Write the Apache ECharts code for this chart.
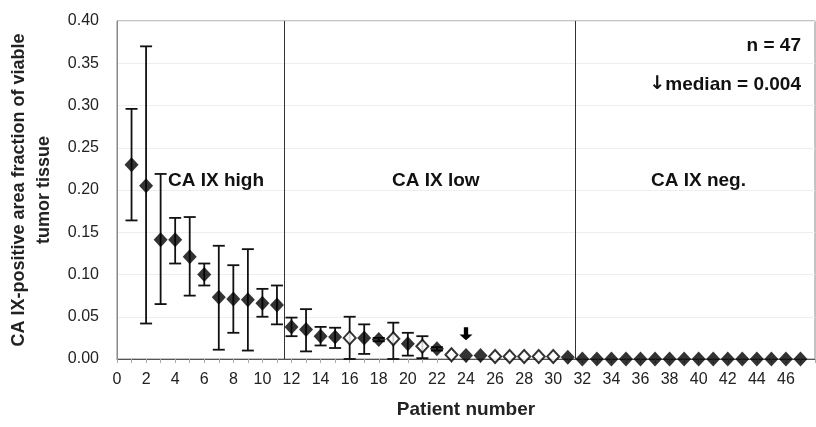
<!DOCTYPE html>
<html>
<head>
<meta charset="utf-8">
<script src="https://cdn.jsdelivr.net/npm/echarts@6/dist/echarts.min.js"></script>
<style>
  html, body { margin: 0; padding: 0; background: #fff; }
  #chart { width: 816px; height: 427px; }
</style>
</head>
<body>
<div id="chart"></div>
<script>
// patient numbers (x)
var patients = [1, 2, 3, 4, 5, 6, 7, 8, 9, 10, 11, 12, 13, 14, 15, 16, 17, 18, 19, 20, 21, 22, 23, 24,
    25, 26, 27, 28, 29, 30, 31, 32, 33, 34, 35, 36, 37, 38, 39, 40, 41, 42, 43, 44, 45, 46, 47];

// CA IX-positive area fraction (mean)
var values = [0.230, 0.205, 0.141, 0.141, 0.121, 0.100, 0.073, 0.071, 0.070, 0.066, 0.064,
    0.038, 0.035, 0.027, 0.026, 0.025, 0.025, 0.023, 0.024, 0.018, 0.015, 0.012, 0.005, 0.004,
    0.004, 0.003, 0.003, 0.003, 0.003, 0.003, 0.002,
    0, 0, 0, 0, 0, 0, 0, 0, 0, 0, 0, 0, 0, 0, 0, 0];

// error bar ends (null = no bar)
var upper = [0.296, 0.370, 0.219, 0.167, 0.168, 0.113, 0.134, 0.111, 0.130, 0.083, 0.087,
    0.049, 0.059, 0.038, 0.037, 0.050, 0.041, 0.025, 0.043, 0.031, 0.027, 0.014];
var lower = [0.164, 0.042, 0.065, 0.113, 0.075, 0.087, 0.011, 0.031, 0.010, 0.050, 0.041,
    0.027, 0.009, 0.016, 0.013, 0.000, 0.006, 0.021, 0.000, 0.004, 0.001, 0.010];

// patients drawn with open diamonds
var openPatients = [16, 19, 21, 23, 26, 27, 28, 29, 30];

// group boundaries
var boundaries = [11.5, 31.5];
var medianPatient = 24;

var filled = [], hollow = [], bars = [];
for (var i = 0; i < patients.length; i++) {
    var p = [patients[i], values[i]];
    if (openPatients.indexOf(patients[i]) >= 0) hollow.push(p); else filled.push(p);
    if (upper[i] != null) bars.push([patients[i], lower[i], upper[i]]);
}

var dom = document.getElementById('chart');
var myChart = echarts.init(dom);
var font = 'Liberation Sans, Arial, sans-serif';

var option = {
    animation: false,
    grid: {
        left: 117, right: 1, top: 21, bottom: 68,
        containLabel: false, outerBoundsMode: 'none',
        show: true, borderColor: '#888', borderWidth: 1
    },
    xAxis: {
        type: 'value',
        min: 0,
        max: 48,
        interval: 2,
        name: 'Patient number',
        nameLocation: 'middle',
        nameGap: 41,
        nameTextStyle: { fontFamily: font, fontSize: 19, fontWeight: 'bold', color: '#222' },
        axisLine: { show: true, lineStyle: { color: '#555', width: 1 } },
        axisTick: { show: true, length: 4, lineStyle: { color: '#aaa' } },
        minorTick: { show: true, splitNumber: 2, length: 4, lineStyle: { color: '#aaa' } },
        splitLine: { show: false },
        axisLabel: { fontFamily: font, fontSize: 16, color: '#222', margin: 13, showMaxLabel: false }
    },
    yAxis: {
        type: 'value',
        min: 0,
        max: 0.4,
        interval: 0.05,
        name: 'CA IX-positive area fraction of viable\ntumor tissue',
        nameLocation: 'middle',
        nameGap: 56,
        nameTextStyle: { fontFamily: font, fontSize: 18, fontWeight: 'bold', color: '#222', lineHeight: 25 },
        axisLine: { show: true, lineStyle: { color: '#888' } },
        axisTick: { show: false },
        splitLine: { show: true, lineStyle: { color: '#eee' } },
        axisLabel: {
            fontFamily: font, fontSize: 16, color: '#222', margin: 18,
            formatter: function (v) { return v.toFixed(2); }
        }
    },
    series: [
        {
            type: 'custom',
            name: 'err',
            data: bars,
            z: 2,
            renderItem: function (params, api) {
                var x = api.value(0);
                var lo = api.coord([x, api.value(1)]);
                var hi = api.coord([x, api.value(2)]);
                var w = 6;
                var st = { stroke: '#111', lineWidth: 1.8 };
                return {
                    type: 'group',
                    children: [
                        { type: 'line', shape: { x1: lo[0], y1: lo[1], x2: hi[0], y2: hi[1] }, style: st },
                        { type: 'line', shape: { x1: lo[0] - w, y1: lo[1], x2: lo[0] + w, y2: lo[1] }, style: st },
                        { type: 'line', shape: { x1: hi[0] - w, y1: hi[1], x2: hi[0] + w, y2: hi[1] }, style: st }
                    ]
                };
            },
            markLine: {
                silent: true,
                symbol: 'none',
                label: { show: false },
                lineStyle: { color: '#333', width: 1, type: 'solid' },
                data: boundaries.map(function (b) { return { xAxis: b }; })
            }
        },
        {
            type: 'scatter',
            name: 'filled',
            data: filled,
            z: 3,
            symbol: 'diamond',
            symbolSize: [14, 15],
            itemStyle: { color: '#000' },
            markPoint: {
                symbol: 'path://M4,0 L8,0 L8,8 L12,8 L6,14 L0,8 L4,8 Z',
                symbolSize: [13, 13],
                itemStyle: { color: '#000' },
                label: { show: false },
                data: [{ coord: [medianPatient, 0.030] }]
            }
        },
        {
            type: 'scatter',
            name: 'open',
            data: hollow,
            z: 3,
            symbol: 'diamond',
            symbolSize: [12, 13],
            itemStyle: { color: '#fff', borderColor: '#000', borderWidth: 2 }
        }
    ],
    graphic: [
        { type: 'text', left: 168, top: 171, style: { text: 'CA IX high', font: 'bold 19px ' + font, fill: '#111' } },
        { type: 'text', left: 392, top: 171, style: { text: 'CA IX low', font: 'bold 19px ' + font, fill: '#111' } },
        { type: 'text', left: 651, top: 171, style: { text: 'CA IX neg.', font: 'bold 19px ' + font, fill: '#111' } },
        { type: 'text', right: 15, top: 36, style: { text: 'n = 47', font: 'bold 19px ' + font, fill: '#111' } },
        {
            type: 'text', right: 15, top: 75,
            style: {
                text: '{a|\u2193}median = 0.004',
                font: 'bold 19px ' + font,
                fill: '#111',
                rich: { a: { fontFamily: 'DejaVu Sans', fontWeight: 'bold', fontSize: 19, fill: '#111' } }
            }
        }
    ]
};

if (option && typeof option === 'object') {
    myChart.setOption(option);
}
</script>
</body>
</html>
